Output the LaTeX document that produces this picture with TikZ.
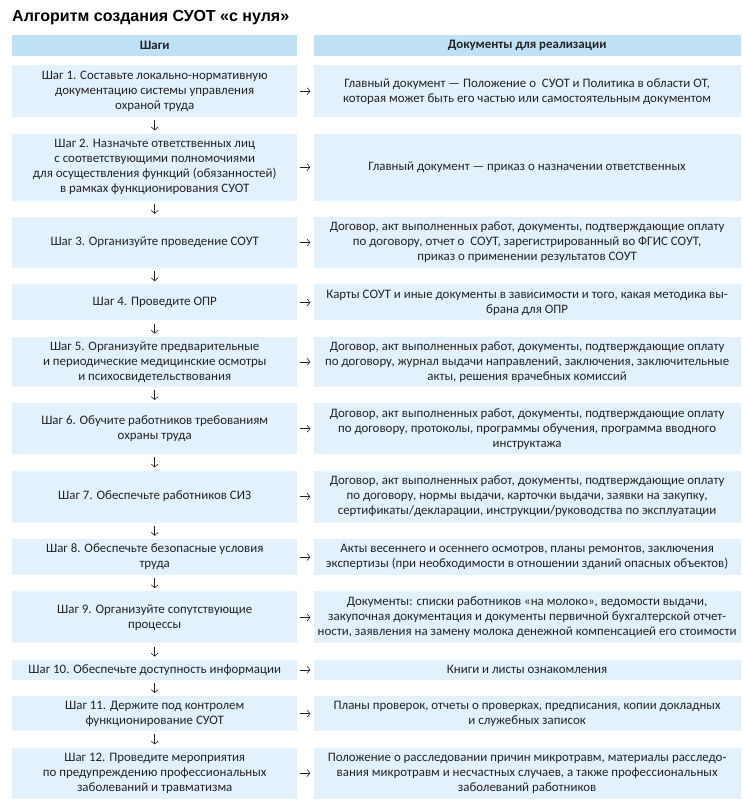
\documentclass[tikz,border=0pt]{standalone}
\usepackage{fontspec}
\setmainfont{Carlito}
\newfontfamily\titlefont{Liberation Sans}
\usetikzlibrary{arrows.meta,positioning}
\definecolor{headblue}{RGB}{190,225,246}
\definecolor{boxblue}{RGB}{226,241,251}
\definecolor{txtgray}{RGB}{35,35,35}

\begin{document}
\begin{tikzpicture}[x=1pt, y=1pt,
  every node/.style={font=\fontsize{12.9}{15}\selectfont, text=txtgray, inner sep=0pt},
  head/.style={rectangle, fill=headblue, font=\fontsize{12.9}{15}\selectfont\bfseries, minimum height=21pt},
  stepbox/.style={rectangle, fill=boxblue, align=center, minimum width=285pt},
  docbox/.style={rectangle, fill=boxblue, align=center, minimum width=427pt},
  link/.style={->, draw=txtgray, line width=0.6pt, shorten >=3pt, shorten <=3pt},
  node distance=16pt and 16pt,
  >={Straight Barb[length=3pt,width=7pt]}
]
\useasboundingbox (0,0) rectangle (742,-800);

\node[anchor=base west, text=black, font=\titlefont\bfseries\fontsize{16}{19}\selectfont] (title) at (12,-22) {Алгоритм создания СУОТ «с нуля»};

\node[head, minimum width=285pt, anchor=north west] (hsteps) at (12,-35) {Шаги};
\node[head, minimum width=427pt, right=of hsteps] (hdocs) {Документы для реализации};

% steps and documents
\node[stepbox, minimum height=52pt, anchor=north west] (s1) at (12,-65) {Шаг 1. Составьте локально-нормативную\\документацию системы управления\\охраной труда};
\node[docbox, minimum height=52pt, right=of s1] (d1) {Главный документ — Положение о\ \ СУОТ и Политика в области ОТ,\\которая может быть его частью или самостоятельным документом};

\node[stepbox, minimum height=67pt, below=of s1] (s2) {Шаг 2. Назначьте ответственных лиц\\с соответствующими полномочиями\\для осуществления функций (обязанностей)\\в рамках функционирования СУОТ};
\node[docbox, minimum height=67pt, right=of s2] (d2) {Главный документ — приказ о назначении ответственных};

\node[stepbox, minimum height=51pt, below=of s2] (s3) {Шаг 3. Организуйте проведение СОУТ};
\node[docbox, minimum height=51pt, right=of s3] (d3) {Договор, акт выполненных работ, документы, подтверждающие оплату\\по договору, отчет о\ \ СОУТ, зарегистрированный во ФГИС СОУТ,\\приказ о применении результатов СОУТ};

\node[stepbox, minimum height=36pt, below=of s3] (s4) {Шаг 4. Проведите ОПР};
\node[docbox, minimum height=36pt, right=of s4] (d4) {Карты СОУТ и иные документы в зависимости и того, какая методика вы-\\брана для ОПР};

\node[stepbox, minimum height=50pt, below=of s4] (s5) {Шаг 5. Организуйте предварительные\\и периодические медицинские осмотры\\и психосвидетельствования};
\node[docbox, minimum height=50pt, right=of s5] (d5) {Договор, акт выполненных работ, документы, подтверждающие оплату\\по договору, журнал выдачи направлений, заключения, заключительные\\акты, решения врачебных комиссий};

\node[stepbox, minimum height=51pt, below=of s5] (s6) {Шаг 6. Обучите работников требованиям\\охраны труда};
\node[docbox, minimum height=51pt, right=of s6] (d6) {Договор, акт выполненных работ, документы, подтверждающие оплату\\по договору, протоколы, программы обучения, программа вводного\\инструктажа};

\node[stepbox, minimum height=52pt, below=of s6] (s7) {Шаг 7. Обеспечьте работников СИЗ};
\node[docbox, minimum height=52pt, right=of s7] (d7) {Договор, акт выполненных работ, документы, подтверждающие оплату\\по договору, нормы выдачи, карточки выдачи, заявки на закупку,\\сертификаты/декларации, инструкции/руководства по эксплуатации};

\node[stepbox, minimum height=36pt, below=of s7] (s8) {Шаг 8. Обеспечьте безопасные условия\\труда};
\node[docbox, minimum height=36pt, right=of s8] (d8) {Акты весеннего и осеннего осмотров, планы ремонтов, заключения\\экспертизы (при необходимости в отношении зданий опасных объектов)};

\node[stepbox, minimum height=52pt, below=of s8] (s9) {Шаг 9. Организуйте сопутствующие\\процессы};
\node[docbox, minimum height=52pt, right=of s9] (d9) {Документы: списки работников «на молоко», ведомости выдачи,\\закупочная документация и документы первичной бухгалтерской отчет-\\ности, заявления на замену молока денежной компенсацией его стоимости};

\node[stepbox, minimum height=20pt, below=of s9] (s10) {Шаг 10. Обеспечьте доступность информации};
\node[docbox, minimum height=20pt, right=of s10] (d10) {Книги и листы ознакомления};

\node[stepbox, minimum height=35pt, below=of s10] (s11) {Шаг 11. Держите под контролем\\функционирование СУОТ};
\node[docbox, minimum height=35pt, right=of s11] (d11) {Планы проверок, отчеты о проверках, предписания, копии докладных\\и служебных записок};

\node[stepbox, minimum height=51pt, below=of s11] (s12) {Шаг 12. Проведите мероприятия\\по предупреждению профессиональных\\заболеваний и травматизма};
\node[docbox, minimum height=51pt, right=of s12] (d12) {Положение о расследовании причин микротравм, материалы расследо-\\вания микротравм и несчастных случаев, а также профессиональных\\заболеваний работников};

% arrows
\foreach \i in {1,...,12} {
  \draw[link] (s\i) -- (d\i);
}
\foreach \i [evaluate=\i as \j using int(\i+1)] in {1,...,11} {
  \draw[link] (s\i) -- (s\j);
}
\end{tikzpicture}
\end{document}
